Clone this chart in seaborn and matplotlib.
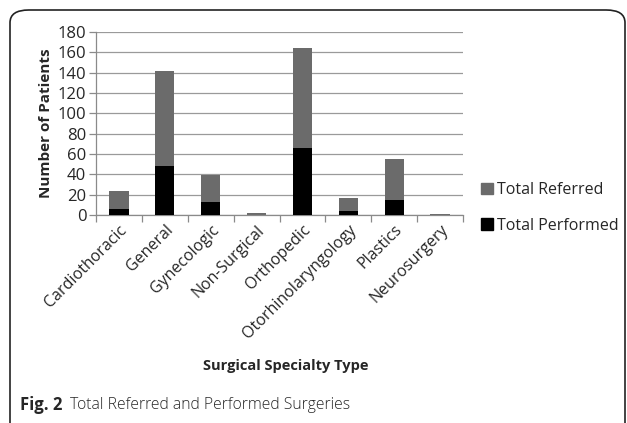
import pandas as pd
import matplotlib
matplotlib.use("Agg")
import matplotlib.pyplot as plt
import seaborn as sns
from matplotlib.patches import FancyBboxPatch, Patch

# values
specialties = ["Cardiothoracic", "General", "Gynecologic", "Non-Surgical",
               "Orthopedic", "Otorhinolaryngology", "Plastics", "Neurosurgery"]
total_referred = [24, 142, 39, 2, 164, 17, 55, 1]
total_performed = [6, 48, 13, 0, 66, 4, 15, 0]
y_ticks = [0, 20, 40, 60, 80, 100, 120, 140, 160, 180]

referred_color = "#6b6b6b"
performed_color = "#000000"

sns.set_theme(style="white")
plt.rcParams["font.family"] = ["Open Sans", "DejaVu Sans"]

df = pd.DataFrame({
    "Specialty": specialties,
    "Referred": total_referred,
    "Performed": total_performed,
})

fig = plt.figure(figsize=(6.27, 4.23), dpi=100)

# rounded frame around the figure
frame = FancyBboxPatch((10 / 627, -0.05), 615 / 627, 1 - 10 / 423 + 0.05,
                       boxstyle="round,pad=0,rounding_size=0.03",
                       transform=fig.transFigure, fill=False,
                       edgecolor="#222222", linewidth=1.2)
fig.patches.append(frame)

ax = fig.add_axes([96 / 627, 1 - 215 / 423, (463 - 96) / 627, (215 - 32) / 423])

sns.barplot(data=df, x="Specialty", y="Referred", color=referred_color,
            width=0.42, saturation=1, linewidth=0, ax=ax, zorder=2)
sns.barplot(data=df, x="Specialty", y="Performed", color=performed_color,
            width=0.42, saturation=1, linewidth=0, ax=ax, zorder=3)

ax.set_ylim(0, 180)
ax.set_xlim(-0.5, len(specialties) - 0.5)
ax.set_yticks(y_ticks)
ax.yaxis.grid(True, color="#9a9a9a", linewidth=0.9, zorder=0)
ax.set_axisbelow(True)

for side in ["top", "right"]:
    ax.spines[side].set_visible(False)
for side in ["left", "bottom"]:
    ax.spines[side].set_color("#8a8a8a")
    ax.spines[side].set_linewidth(0.9)

# labels at bar centres, small ticks at category boundaries
ax.set_xticks(range(len(specialties)))
ax.set_xticklabels(specialties, rotation=45, ha="right", rotation_mode="anchor",
                   fontsize=11.5)
ax.tick_params(axis="x", length=0, pad=5)
ax.set_xticks([i - 0.5 for i in range(len(specialties) + 1)], minor=True)
ax.tick_params(axis="x", which="minor", length=5, color="#8a8a8a", width=0.9,
               bottom=True)
ax.tick_params(axis="y", length=5, color="#8a8a8a", width=0.9, left=True,
               labelsize=12, pad=2)

ax.set_ylabel("Number of Patients", fontsize=11, fontweight="bold", labelpad=3)
ax.set_xlabel("")
fig.text(0.455, 1 - 366 / 423, "Surgical Specialty Type", ha="center",
         va="center", fontsize=10.5, fontweight="bold")

handles = [Patch(color=referred_color), Patch(color=performed_color)]
fig.legend(handles, ["Total Referred", "Total Performed"],
           loc="center left", bbox_to_anchor=(0.745, 1 - 208 / 423),
           frameon=False, fontsize=11.5, handlelength=0.7, handleheight=0.7,
           handletextpad=0.3, labelspacing=1.2)

fig.text(20 / 627, 1 - 405 / 423, "Fig. 2", ha="left", va="center",
         fontsize=12, fontweight="bold")
fig.text(70 / 627, 1 - 405 / 423, "Total Referred and Performed Surgeries",
         ha="left", va="center", fontsize=11.3, fontweight="light")

fig.savefig("out.png", dpi=100)
